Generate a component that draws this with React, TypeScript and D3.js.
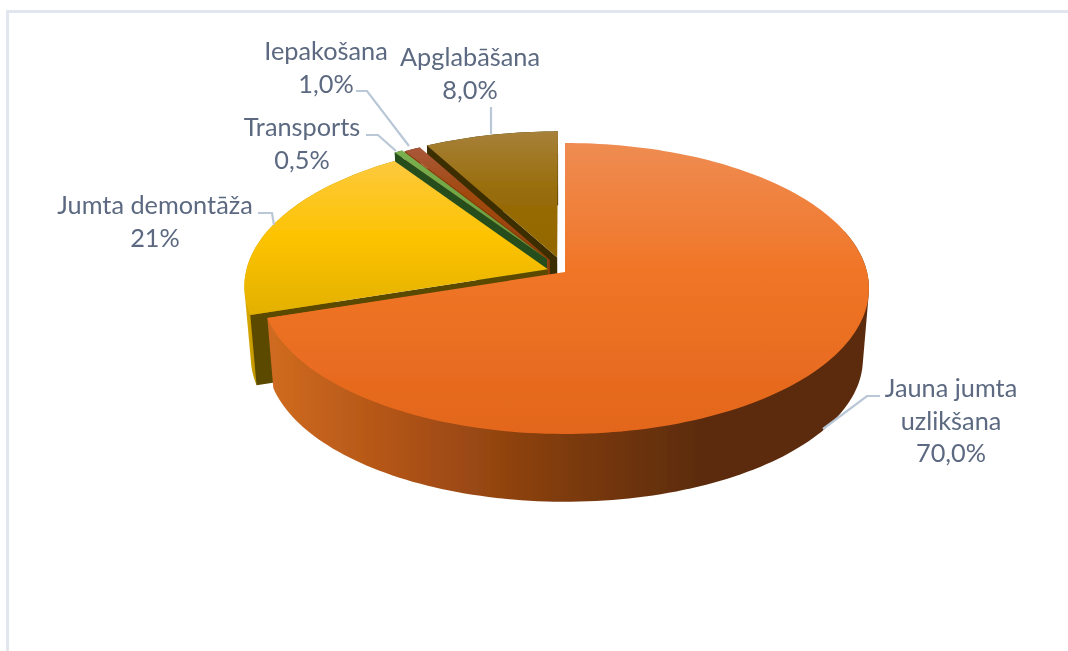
import React from 'react';
import * as d3 from 'd3';

const categories = ['Jauna jumta uzlikšana', 'Jumta demontāža', 'Transports', 'Iepakošana', 'Apglabāšana'];
const values = [70, 20.5, 0.5, 1, 8];
const valueLabels = ['70,0%', '21%', '0,5%', '1,0%', '8,0%'];

// how far each slice is pulled out of the pie, as a share of the radius
const explode = [0, 0.06, 0.11, 0.1, 0.105];

const width = 1068;
const height = 651;
const textColor = '#5b6980';
const leaderColor = '#b9c7d6';

// perspective of the tilted pie: disc coordinates -> screen
const cx = 565;
const cy = 272;
const radiusX = 302;
const radiusY = 143.6;
const tilt = -0.1134;
const depth = 71;
const bottomScale = 0.98;

const project = (x: number, y: number, bottom = false) => {
  const w = 1 + tilt * y;
  const s = bottom ? bottomScale : 1;
  return [cx + (radiusX * x * s) / w, cy + (radiusY * y * s) / w + (bottom ? depth : 0)] as [number, number];
};

const pieAngles = d3.pie<number>().sort(null)(values);
const line = d3.line();

const sliceStyles = [
  { top: 'topOrange', wall: 'wallOrange', cut: '#5c2c0c' },
  { top: 'topYellow', wall: 'wallYellow', cut: '#5b4900' },
  { top: 'topGreen', wall: '#274e1f', cut: '#274e1f' },
  { top: 'topRed', wall: '#4a2208', cut: '#8f3f08' },
  { top: 'topBrown', wall: '#3c2d05', cut: '#3c2d05' },
];

// label placement: centre x, first baseline, text lines, leader polyline
const labelLayout = [
  { x: 951, y: 397, lines: ['Jauna jumta', 'uzlikšana'], leader: [[880, 396], [867, 396], [823, 429]] },
  { x: 155, y: 214, lines: ['Jumta demontāža'], leader: [[258, 213], [272, 213], [274, 225]] },
  { x: 302, y: 136, lines: ['Transports'], leader: [[366, 135], [378, 135], [396, 151]] },
  { x: 326, y: 60, lines: ['Iepakošana'], leader: [[356, 91], [367, 91], [409, 146]] },
  { x: 470, y: 66, lines: ['Apglabāšana'], leader: [[491, 107], [491, 134]] },
];

const fill = (name: string) => (name.startsWith('#') ? name : `url(#${name})`);

const Slice = ({ index }: { index: number }) => {
  const { startAngle, endAngle } = pieAngles[index];
  const mid = (startAngle + endAngle) / 2;
  const ox = explode[index] * Math.sin(mid);
  const oy = -explode[index] * Math.cos(mid);
  const steps = Math.max(4, Math.ceil((endAngle - startAngle) * 40));
  const angles = d3.range(steps + 1).map((i) => startAngle + ((endAngle - startAngle) * i) / steps);
  const arcPoints = (bottom: boolean, list = angles) =>
    list.map((a) => project(ox + Math.sin(a), oy - Math.cos(a), bottom));
  const apexTop = project(ox, oy);
  const apexBottom = project(ox, oy, true);
  const topArc = arcPoints(false);
  const bottomArc = arcPoints(true);
  const style = sliceStyles[index];
  // wall silhouette: hull of both rims, at most the last half turn of the arc
  const wallAngles = angles.filter((a) => a >= endAngle - Math.PI);
  const hull = d3.polygonHull([...arcPoints(false, wallAngles), ...arcPoints(true, wallAngles)])!;
  // a cut face only shows when it turns towards the viewer
  const showStart = Math.sin(startAngle) < -0.01;
  const showEnd = Math.sin(endAngle) > 0.01;
  return (
    <g>
      <path d={line(hull)! + 'Z'} fill={fill(style.wall)} />
      {showEnd && (
        <path d={line([apexTop, topArc[steps], bottomArc[steps], apexBottom])! + 'Z'} fill={style.cut} />
      )}
      {showStart && (
        <path d={line([apexTop, topArc[0], bottomArc[0], apexBottom])! + 'Z'} fill={style.cut} />
      )}
      <path d={line([apexTop, ...topArc])! + 'Z'} fill={fill(style.top)} />
    </g>
  );
};

const VGrad = ({ id, y1, y2, stops }: { id: string; y1: number; y2: number; stops: [number, string][] }) => (
  <linearGradient id={id} gradientUnits="userSpaceOnUse" x1={0} x2={0} y1={y1} y2={y2}>
    {stops.map(([o, c]) => (
      <stop key={o} offset={o} stopColor={c} />
    ))}
  </linearGradient>
);

const HGrad = ({ id, x1, x2, stops }: { id: string; x1: number; x2: number; stops: [number, string][] }) => (
  <linearGradient id={id} gradientUnits="userSpaceOnUse" y1={0} y2={0} x1={x1} x2={x2}>
    {stops.map(([o, c]) => (
      <stop key={o} offset={o} stopColor={c} />
    ))}
  </linearGradient>
);

export default function App() {
  // back slices first so the front ones cover them
  const drawOrder = [4, 3, 2, 1, 0];
  return (
    <svg
      width={width}
      height={height}
      style={{ position: 'absolute', left: 0, top: 0, background: '#fff' }}
      fontFamily="Lato, 'Open Sans', sans-serif"
    >
      <defs>
        <VGrad id="topOrange" y1={143} y2={434} stops={[[0, '#ef8c52'], [0.45, '#f07526'], [1, '#e3661c']]} />
        <VGrad id="topYellow" y1={160} y2={316} stops={[[0, '#fdc93f'], [0.5, '#fdc300'], [1, '#e2b000']]} />
        <VGrad id="topGreen" y1={150} y2={268} stops={[[0, '#7ab050'], [1, '#5f9a38']]} />
        <VGrad id="topRed" y1={147} y2={262} stops={[[0, '#a9573a'], [0.4, '#a24a10'], [1, '#983f05']]} />
        <VGrad id="topBrown" y1={130} y2={258} stops={[[0, '#a7813a'], [0.5, '#976c08'], [1, '#936700']]} />
        <HGrad
          id="wallOrange"
          x1={270}
          x2={700}
          stops={[[0, '#cf6b20'], [0.3, '#b05316'], [0.7, '#7c3a0d'], [1, '#5c2c0c']]}
        />
        <HGrad id="wallYellow" x1={243} x2={258} stops={[[0, '#e2b000'], [1, '#b89000']]} />
        <filter id="soft" x="-5%" y="-5%" width="110%" height="110%">
          <feGaussianBlur stdDeviation={0.45} />
        </filter>
      </defs>

      {/* panel border */}
      <path d="M7.5,651V11.5H1068" fill="none" stroke="#e2e7ef" strokeWidth={3} />

      <g filter="url(#soft)">
        {drawOrder.map((i) => (
          <Slice key={categories[i]} index={i} />
        ))}

        {labelLayout.map((label, i) => (
          <g key={categories[i]}>
            <path
              d={line(label.leader as [number, number][])!}
              fill="none"
              stroke={leaderColor}
              strokeWidth={2.2}
            />
            <text x={label.x} textAnchor="middle" fontSize={25.3} fill={textColor}>
              {[...label.lines, valueLabels[i]].map((t, j) => (
                <tspan key={t} x={label.x} y={label.y + j * 32.5}>
                  {t}
                </tspan>
              ))}
            </text>
          </g>
        ))}
      </g>
    </svg>
  );
}
